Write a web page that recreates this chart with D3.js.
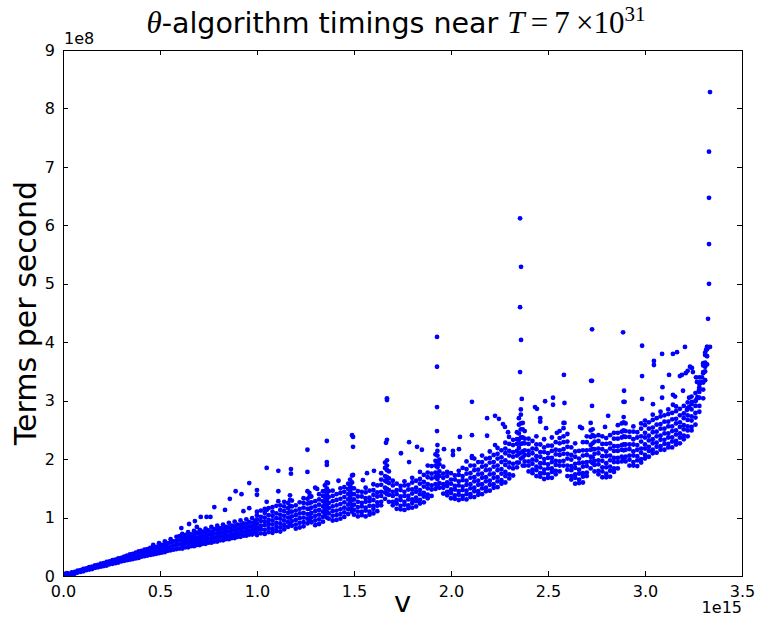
<!DOCTYPE html>
<html>
<head>
<meta charset="utf-8">
<script src="https://cdn.jsdelivr.net/npm/d3@7"></script>
<style>
  body { margin: 0; background: #fff; }
  svg { display: block; font-family: "DejaVu Sans", sans-serif; }
  .axis path.domain { display: none; }
  .axis line { stroke: #000; shape-rendering: crispEdges; }
  .axis text { fill: #000; font-size: 16px; font-family: "DejaVu Sans", sans-serif; }
</style>
</head>
<body>
<div id="chart"></div>
<script>
// units used in the tables below
const V_UNIT = 1e15;
const RATE_UNIT = 1e8;

const xTickVals = [0.0, 0.5, 1.0, 1.5, 2.0, 2.5, 3.0, 3.5];
const yTickVals = [0, 1, 2, 3, 4, 5, 6, 7, 8, 9];

// each row: [v, rate, rate, ...] (v in 1e15, rate in 1e8)
const rampCols = [
  [0.000, 0.00, 0.02, 0.04], [0.010, 0.01, 0.03], [0.020, 0.00, 0.03, 0.05], [0.030, 0.02, 0.04],
  [0.045, 0.03, 0.06], [0.060, 0.04, 0.07], [0.075, 0.06, 0.09], [0.090, 0.07, 0.10],
  [0.105, 0.08, 0.12], [0.120, 0.10, 0.13], [0.135, 0.11, 0.15], [0.150, 0.12, 0.16],
  [0.165, 0.14, 0.18], [0.180, 0.15, 0.19], [0.195, 0.16, 0.21], [0.210, 0.17, 0.22],
  [0.225, 0.18, 0.21, 0.24], [0.240, 0.20, 0.25], [0.255, 0.21, 0.24, 0.27], [0.270, 0.22, 0.28],
  [0.285, 0.23, 0.26, 0.30], [0.300, 0.25, 0.31], [0.315, 0.26, 0.29, 0.33], [0.330, 0.27, 0.31, 0.35],
  [0.345, 0.28, 0.32, 0.37], [0.360, 0.29, 0.34, 0.38], [0.375, 0.30, 0.35, 0.40],
  [0.390, 0.31, 0.37, 0.42], [0.405, 0.33, 0.38, 0.43], [0.420, 0.34, 0.39, 0.45],
  [0.435, 0.35, 0.41, 0.46], [0.450, 0.36, 0.42, 0.48], [0.465, 0.37, 0.43, 0.49, 0.53],
  [0.480, 0.38, 0.44, 0.50], [0.495, 0.39, 0.45, 0.51, 0.56], [0.510, 0.40, 0.46, 0.53],
  [0.525, 0.41, 0.48, 0.54, 0.59], [0.540, 0.43, 0.49, 0.56], [0.555, 0.44, 0.50, 0.57, 0.63],
  [0.570, 0.45, 0.52, 0.59], [0.585, 0.46, 0.53, 0.60, 0.67], [0.600, 0.47, 0.54, 0.61, 0.68]
];

const bandCols = [
  [0.615, 0.47, 0.53, 0.60, 0.66, 0.72], [0.630, 0.49, 0.56, 0.63, 0.70], [0.645, 0.49, 0.55, 0.61, 0.68, 0.75],
  [0.660, 0.51, 0.58, 0.65, 0.71], [0.675, 0.51, 0.57, 0.63, 0.70, 0.77], [0.690, 0.53, 0.60, 0.66, 0.74],
  [0.705, 0.53, 0.59, 0.65, 0.72, 0.79], [0.720, 0.55, 0.62, 0.69, 0.76], [0.735, 0.55, 0.61, 0.67, 0.74, 0.81],
  [0.750, 0.57, 0.64, 0.71, 0.78], [0.765, 0.57, 0.63, 0.70, 0.76, 0.84], [0.780, 0.59, 0.66, 0.73, 0.80],
  [0.795, 0.59, 0.65, 0.72, 0.79, 0.86], [0.810, 0.61, 0.68, 0.75, 0.82], [0.825, 0.61, 0.67, 0.74, 0.81, 0.88],
  [0.840, 0.63, 0.70, 0.77, 0.84], [0.855, 0.63, 0.69, 0.76, 0.83, 0.91], [0.870, 0.65, 0.72, 0.79, 0.86],
  [0.885, 0.65, 0.71, 0.78, 0.85, 0.93], [0.900, 0.67, 0.74, 0.81, 0.88], [0.915, 0.67, 0.73, 0.80, 0.87, 0.95],
  [0.930, 0.69, 0.76, 0.83, 0.90], [0.945, 0.69, 0.75, 0.82, 0.89, 0.97], [0.960, 0.71, 0.78, 0.85, 0.92],
  [0.975, 0.71, 0.77, 0.84, 0.91, 0.99], [0.990, 0.73, 0.80, 0.87, 0.94],
  [1.00, 0.70, 0.77, 0.83, 0.90, 0.97, 1.04, 1.10], [1.02, 0.73, 0.80, 0.86, 0.94, 1.01, 1.12],
  [1.04, 0.72, 0.79, 0.87, 0.93, 1.00, 1.08, 1.15], [1.06, 0.75, 0.82, 0.89, 0.96, 1.04, 1.16],
  [1.08, 0.74, 0.80, 0.88, 0.95, 1.03, 1.10, 1.18], [1.10, 0.77, 0.84, 0.91, 0.99, 1.07, 1.20],
  [1.12, 0.76, 0.83, 0.90, 0.98, 1.05, 1.13, 1.21], [1.14, 0.80, 0.87, 0.95, 1.03, 1.11, 1.19, 1.27],
  [1.16, 0.84, 0.92, 1.00, 1.08, 1.16, 1.25], [1.17, 0.90, 1.00, 1.10, 1.20, 1.30, 1.38],
  [1.18, 0.86, 0.94, 1.02, 1.10, 1.19, 1.29], [1.20, 0.81, 0.88, 0.96, 1.04, 1.12, 1.21],
  [1.22, 0.83, 0.91, 0.99, 1.07, 1.15, 1.26], [1.24, 0.85, 0.92, 1.00, 1.08, 1.17, 1.25, 1.33],
  [1.26, 0.90, 0.98, 1.06, 1.15, 1.24, 1.32], [1.27, 0.95, 1.05, 1.15, 1.25, 1.35, 1.42],
  [1.28, 0.92, 1.00, 1.08, 1.17, 1.26, 1.36], [1.30, 0.87, 0.95, 1.03, 1.11, 1.19, 1.28],
  [1.32, 0.89, 0.97, 1.05, 1.13, 1.22, 1.31, 1.40], [1.34, 0.93, 1.01, 1.10, 1.19, 1.28, 1.37, 1.45],
  [1.35, 1.05, 1.15, 1.25, 1.35, 1.45, 1.55], [1.36, 1.00, 1.10, 1.20, 1.30, 1.40, 1.50, 1.60],
  [1.37, 0.98, 1.07, 1.16, 1.25, 1.35, 1.45], [1.39, 0.95, 1.03, 1.11, 1.19, 1.28, 1.37, 1.46],
  [1.41, 0.96, 1.04, 1.12, 1.21, 1.30, 1.40], [1.43, 0.98, 1.06, 1.14, 1.23, 1.32, 1.42, 1.50],
  [1.45, 1.01, 1.09, 1.17, 1.26, 1.35, 1.44, 1.52], [1.47, 1.06, 1.14, 1.22, 1.31, 1.40, 1.49, 1.58],
  [1.48, 1.15, 1.25, 1.35, 1.45, 1.55, 1.65], [1.49, 1.10, 1.20, 1.30, 1.40, 1.50, 1.60, 1.72],
  [1.50, 1.05, 1.13, 1.22, 1.31, 1.40, 1.50], [1.52, 1.02, 1.10, 1.18, 1.27, 1.36, 1.45]
];

const scallopCols = [
  [1.54, 1.04, 1.10, 1.19, 1.25, 1.36, 1.44], [1.56, 1.02, 1.12, 1.17, 1.27, 1.33, 1.43, 1.51],
  [1.58, 1.05, 1.10, 1.20, 1.28, 1.34, 1.46], [1.60, 1.07, 1.15, 1.20, 1.30, 1.39, 1.47, 1.57],
  [1.62, 1.11, 1.20, 1.26, 1.36, 1.43, 1.55], [1.64, 1.21, 1.27, 1.37, 1.44, 1.56, 1.65, 1.76],
  [1.66, 1.32, 1.43, 1.51, 1.63, 1.71, 1.85, 1.94], [1.67, 1.40, 1.49, 1.61, 1.69, 1.81, 1.89, 1.98],
  [1.68, 1.27, 1.39, 1.47, 1.59, 1.67, 1.79], [1.70, 1.21, 1.27, 1.37, 1.44, 1.55, 1.63],
  [1.72, 1.15, 1.24, 1.30, 1.40, 1.47, 1.58], [1.74, 1.14, 1.20, 1.30, 1.36, 1.47, 1.54],
  [1.76, 1.13, 1.22, 1.27, 1.37, 1.44, 1.55, 1.62], [1.78, 1.16, 1.21, 1.31, 1.37, 1.48, 1.56],
  [1.80, 1.17, 1.25, 1.31, 1.41, 1.48, 1.60, 1.68], [1.82, 1.19, 1.28, 1.34, 1.44, 1.51, 1.63],
  [1.84, 1.24, 1.30, 1.40, 1.47, 1.58, 1.66, 1.78], [1.86, 1.26, 1.36, 1.42, 1.53, 1.61, 1.73],
  [1.88, 1.33, 1.39, 1.50, 1.57, 1.69, 1.77, 1.89], [1.90, 1.37, 1.48, 1.55, 1.67, 1.75, 1.88],
  [1.92, 1.49, 1.57, 1.69, 1.77, 1.89, 1.97, 2.08], [1.93, 1.54, 1.66, 1.74, 1.86, 1.94, 2.06, 2.14, 2.24],
  [1.94, 1.51, 1.59, 1.71, 1.79, 1.91, 1.99], [1.96, 1.41, 1.51, 1.57, 1.68, 1.75, 1.87],
  [1.98, 1.38, 1.44, 1.54, 1.60, 1.71, 1.78], [2.00, 1.33, 1.42, 1.48, 1.58, 1.65, 1.76],
  [2.02, 1.32, 1.38, 1.48, 1.54, 1.65, 1.72], [2.04, 1.30, 1.39, 1.45, 1.55, 1.62, 1.73, 1.80],
  [2.06, 1.32, 1.37, 1.47, 1.53, 1.64, 1.71, 1.85], [2.08, 1.31, 1.40, 1.46, 1.56, 1.63, 1.75, 1.83, 1.96],
  [2.10, 1.35, 1.40, 1.50, 1.57, 1.68, 1.76, 1.89], [2.12, 1.35, 1.45, 1.51, 1.62, 1.69, 1.81, 1.89, 2.01],
  [2.14, 1.39, 1.45, 1.56, 1.63, 1.74, 1.82, 1.95], [2.16, 1.40, 1.50, 1.57, 1.68, 1.75, 1.87, 1.95, 2.06],
  [2.18, 1.45, 1.51, 1.62, 1.69, 1.81, 1.89, 2.01], [2.20, 1.46, 1.56, 1.63, 1.74, 1.82, 1.94, 2.02, 2.13],
  [2.22, 1.51, 1.57, 1.68, 1.75, 1.87, 1.95, 2.07], [2.24, 1.52, 1.62, 1.69, 1.81, 1.89, 2.01, 2.09, 2.19],
  [2.26, 1.58, 1.64, 1.75, 1.83, 1.95, 2.03, 2.15], [2.28, 1.60, 1.71, 1.78, 1.90, 1.98, 2.10, 2.18, 2.28],
  [2.30, 1.67, 1.74, 1.86, 1.94, 2.06, 2.14, 2.26], [2.32, 1.72, 1.84, 1.92, 2.04, 2.12, 2.24, 2.33],
  [2.34, 1.86, 1.94, 2.06, 2.14, 2.26, 2.34, 2.46], [2.35, 1.94, 2.09, 2.19, 2.33, 2.44, 2.59, 2.70],
  [2.36, 2.01, 2.11, 2.26, 2.37, 2.51, 2.61, 2.76, 2.85], [2.37, 1.89, 2.03, 2.13, 2.27, 2.37, 2.51, 2.62],
  [2.38, 1.89, 1.96, 2.07, 2.15, 2.27, 2.35, 2.48], [2.40, 1.79, 1.89, 1.96, 2.07, 2.14, 2.26, 2.35],
  [2.42, 1.76, 1.82, 1.92, 1.99, 2.10, 2.18, 2.31], [2.44, 1.71, 1.81, 1.87, 1.98, 2.05, 2.17, 2.25, 2.39],
  [2.46, 1.70, 1.76, 1.86, 1.93, 2.04, 2.12, 2.25], [2.48, 1.66, 1.76, 1.82, 1.93, 2.00, 2.12, 2.20, 2.34],
  [2.50, 1.68, 1.74, 1.84, 1.91, 2.02, 2.10, 2.23], [2.52, 1.68, 1.78, 1.84, 1.95, 2.02, 2.14, 2.23, 2.37],
  [2.54, 1.74, 1.80, 1.90, 1.97, 2.08, 2.16, 2.29], [2.56, 1.79, 1.89, 1.96, 2.07, 2.15, 2.27, 2.36, 2.48],
  [2.58, 1.89, 1.97, 2.09, 2.17, 2.29, 2.39, 2.53, 2.62], [2.60, 1.71, 1.82, 1.89, 2.01, 2.09, 2.21, 2.30, 2.43],
  [2.62, 1.65, 1.71, 1.81, 1.88, 1.99, 2.07, 2.20], [2.64, 1.58, 1.68, 1.74, 1.85, 1.92, 2.04, 2.13, 2.27],
  [2.66, 1.59, 1.65, 1.75, 1.82, 1.93, 2.01, 2.14], [2.68, 1.60, 1.70, 1.76, 1.87, 1.94, 2.06, 2.15, 2.29],
  [2.70, 1.71, 1.77, 1.88, 1.95, 2.07, 2.15, 2.29, 2.39], [2.72, 1.84, 1.96, 2.04, 2.16, 2.24, 2.38, 2.49, 2.62],
  [2.73, 1.93, 2.03, 2.17, 2.27, 2.41, 2.51], [2.74, 1.79, 1.90, 1.97, 2.09, 2.17, 2.30, 2.39],
  [2.76, 1.74, 1.80, 1.91, 1.98, 2.10, 2.18, 2.31, 2.41], [2.78, 1.69, 1.79, 1.86, 1.97, 2.05, 2.17, 2.26, 2.39],
  [2.80, 1.69, 1.75, 1.86, 1.93, 2.05, 2.13, 2.26, 2.36], [2.82, 1.70, 1.80, 1.87, 1.98, 2.06, 2.18, 2.27, 2.41],
  [2.84, 1.78, 1.84, 1.95, 2.02, 2.14, 2.22, 2.35, 2.45], [2.86, 1.84, 1.95, 2.02, 2.14, 2.22, 2.35, 2.45, 2.58],
  [2.88, 1.96, 2.04, 2.16, 2.24, 2.37, 2.47, 2.61], [2.89, 2.01, 2.15, 2.25, 2.39, 2.49, 2.63, 2.72],
  [2.90, 1.96, 2.04, 2.16, 2.25, 2.38, 2.48, 2.61], [2.92, 1.89, 1.99, 2.06, 2.17, 2.25, 2.38, 2.47],
  [2.94, 1.89, 1.95, 2.06, 2.13, 2.25, 2.34, 2.47, 2.56], [2.96, 1.88, 1.98, 2.05, 2.16, 2.24, 2.37, 2.46],
  [2.98, 1.94, 2.00, 2.11, 2.18, 2.30, 2.39, 2.52, 2.61]
];

const tailCols = [
  [3.00, 2.01, 2.07, 2.18, 2.25, 2.37, 2.45, 2.58, 2.66], [3.02, 2.04, 2.14, 2.21, 2.32, 2.40, 2.52, 2.63],
  [3.04, 2.10, 2.16, 2.27, 2.34, 2.46, 2.54, 2.67, 2.76], [3.06, 2.11, 2.21, 2.28, 2.39, 2.47, 2.59, 2.70],
  [3.08, 2.16, 2.22, 2.33, 2.40, 2.52, 2.60, 2.73, 2.81], [3.10, 2.16, 2.26, 2.33, 2.44, 2.52, 2.64, 2.75],
  [3.12, 2.20, 2.26, 2.37, 2.44, 2.56, 2.64, 2.77, 2.85], [3.14, 2.20, 2.30, 2.37, 2.48, 2.56, 2.68, 2.79],
  [3.16, 2.25, 2.31, 2.42, 2.49, 2.61, 2.69, 2.82, 2.90], [3.18, 2.27, 2.37, 2.44, 2.55, 2.63, 2.75, 2.86],
  [3.20, 2.34, 2.40, 2.51, 2.58, 2.70, 2.78, 2.91], [3.22, 2.39, 2.49, 2.56, 2.67, 2.75, 2.87, 2.97],
  [3.24, 2.49, 2.55, 2.66, 2.73, 2.85, 2.94, 3.07], [3.26, 2.59, 2.71, 2.79, 2.91, 2.99, 3.13],
  [3.28, 2.81, 2.91, 3.05, 3.15, 3.29, 3.40], [3.30, 3.04, 3.19, 3.31, 3.47, 3.60],
  [3.31, 3.35, 3.50, 3.65, 3.78], [3.32, 3.62, 3.76, 3.88, 3.92]
];

// sparse points above the main cloud: [v, rate]
const outlierPts = [
  [0.61, 0.82], [0.65, 0.89], [0.68, 0.94], [0.69, 0.84], [0.71, 1.01], [0.74, 1.01], [0.76, 1.01],
  [0.78, 1.18], [0.835, 1.13], [0.86, 1.32], [0.89, 1.45], [0.92, 1.40], [0.93, 1.11], [0.96, 1.16],
  [0.96, 1.59], [1.00, 1.47], [1.00, 1.39], [1.05, 1.85], [1.05, 1.27], [1.05, 1.13],
  [1.11, 1.80], [1.11, 1.45], [1.11, 1.28], [1.175, 1.83], [1.175, 1.75], [1.26, 2.16], [1.26, 1.78],
  [1.26, 1.45], [1.30, 1.51], [1.31, 1.49], [1.36, 2.31], [1.36, 1.95], [1.36, 1.90], [1.366, 1.59],
  [1.42, 1.63], [1.49, 2.41], [1.495, 2.38], [1.495, 2.21], [1.495, 1.73], [1.546, 1.64], [1.567, 1.76],
  [1.603, 1.80], [1.67, 3.01], [1.67, 3.04], [1.67, 2.33], [1.665, 2.28], [1.742, 2.10], [1.784, 2.29],
  [1.784, 1.95], [1.825, 2.21], [1.85, 2.16], [1.928, 4.09], [1.928, 3.58], [1.928, 2.89], [1.928, 2.48],
  [1.964, 2.17], [2.01, 2.14], [2.01, 2.07], [2.041, 2.17], [2.046, 2.38], [2.108, 2.98], [2.108, 2.41],
  [2.108, 2.05], [2.108, 2.02], [2.186, 2.70], [2.186, 2.40], [2.227, 2.74], [2.227, 2.24], [2.247, 2.69],
  [2.268, 2.60], [2.278, 2.55], [2.294, 2.46], [2.299, 2.38], [2.356, 6.12], [2.361, 5.29], [2.356, 4.60],
  [2.361, 4.04], [2.356, 3.49], [2.365, 3.03], [2.433, 2.89], [2.443, 2.86], [2.46, 2.64], [2.46, 2.70],
  [2.49, 2.53], [2.485, 2.99], [2.526, 3.05], [2.526, 2.93], [2.546, 2.45], [2.582, 3.44], [2.585, 2.96],
  [2.585, 2.62], [2.665, 2.55], [2.675, 2.53], [2.722, 3.34], [2.727, 3.34], [2.727, 4.22], [2.727, 2.91],
  [2.794, 2.55], [2.81, 2.74], [2.887, 4.17], [2.892, 3.17], [2.889, 2.98], [2.895, 2.98],
  [2.985, 3.94], [2.985, 3.42], [2.985, 3.03], [3.046, 3.68], [3.046, 3.61], [3.041, 2.94],
  [3.088, 3.80], [3.09, 3.23], [3.088, 3.05], [3.124, 3.44], [3.144, 3.80], [3.165, 3.83],
  [3.144, 3.10], [3.155, 3.07], [3.144, 2.93], [3.18, 3.42], [3.19, 3.44], [3.196, 3.17], [3.206, 3.92],
  [3.216, 2.84], [3.227, 2.89], [3.227, 3.05], [3.242, 2.98],
  [3.21, 3.47], [3.22, 3.51], [3.232, 3.58], [3.242, 3.56], [3.247, 3.49], [3.263, 3.40], [3.268, 3.32],
  [3.284, 3.30], [3.263, 3.01], [3.27, 3.06], [3.278, 3.18], [3.28, 3.23], [3.289, 3.32], [3.294, 3.40],
  [3.30, 3.49], [3.31, 3.58], [3.30, 3.64], [3.31, 3.82], [3.315, 3.87], [3.32, 3.92], [3.335, 3.92],
  [3.325, 4.40], [3.33, 5.00], [3.33, 5.68], [3.33, 6.47], [3.33, 7.26], [3.335, 8.28]
];

const W = 757, H = 620;
const margin = { top: 50, right: 15, bottom: 44, left: 63 };
const width = W - margin.left - margin.right;   // 679
const height = H - margin.top - margin.bottom;  // 526

const colPts = cols => cols.flatMap(([v, ...rates]) => rates.map(r => ({ v: v * V_UNIT, rate: r * RATE_UNIT })));
const points = [
  ...colPts(rampCols), ...colPts(bandCols), ...colPts(scallopCols), ...colPts(tailCols),
  ...outlierPts.map(([v, r]) => ({ v: v * V_UNIT, rate: r * RATE_UNIT }))
];

const svg = d3.select("#chart")
  .append("svg")
  .attr("width", W)
  .attr("height", H);

const g = svg.append("g")
  .attr("transform", `translate(${margin.left},${margin.top})`);

const x = d3.scaleLinear().domain([0, 3.5 * V_UNIT]).range([0, width]);
const y = d3.scaleLinear().domain([0, 9 * RATE_UNIT]).range([height, 0]);

g.append("clipPath").attr("id", "plot-clip")
  .append("rect").attr("width", width).attr("height", height);

g.append("g")
  .attr("clip-path", "url(#plot-clip)")
  .selectAll("circle")
  .data(points)
  .enter()
  .append("circle")
  .attr("cx", d => x(d.v))
  .attr("cy", d => y(d.rate))
  .attr("r", 2.4)
  .attr("fill", "#0000ff");

// axes, ticks pointing inward on all four sides
g.append("g")
  .attr("class", "axis")
  .attr("transform", `translate(0,${height})`)
  .call(d3.axisBottom(x).tickValues(xTickVals.map(d => d * V_UNIT)).tickSizeInner(-5).tickSizeOuter(0)
    .tickPadding(10).tickFormat(d => (d / V_UNIT).toFixed(1)));

g.append("g")
  .attr("class", "axis")
  .call(d3.axisTop(x).tickValues(xTickVals.map(d => d * V_UNIT)).tickSizeInner(-5).tickSizeOuter(0).tickFormat(""));

g.append("g")
  .attr("class", "axis")
  .call(d3.axisLeft(y).tickValues(yTickVals.map(d => d * RATE_UNIT)).tickSizeInner(-5).tickSizeOuter(0)
    .tickPadding(8).tickFormat(d => d3.format("d")(d / RATE_UNIT)));

g.append("g")
  .attr("class", "axis")
  .attr("transform", `translate(${width},0)`)
  .call(d3.axisRight(y).tickValues(yTickVals.map(d => d * RATE_UNIT)).tickSizeInner(-5).tickSizeOuter(0).tickFormat(""));

g.append("rect")
  .attr("x", 0.5).attr("y", 0.5)
  .attr("width", width).attr("height", height)
  .attr("fill", "none")
  .attr("stroke", "#000")
  .attr("stroke-width", 1);

// offset labels
g.append("text")
  .attr("x", 1).attr("y", -6)
  .attr("font-size", 16)
  .text("1e8");

g.append("text")
  .attr("x", width).attr("y", height + 37)
  .attr("text-anchor", "end")
  .attr("font-size", 16)
  .text("1e15");

// axis titles
svg.append("text")
  .attr("x", margin.left + width / 2).attr("y", 612)
  .attr("text-anchor", "middle")
  .attr("font-size", 29)
  .text("v");

svg.append("text")
  .attr("transform", `translate(36,${margin.top + height / 2}) rotate(-90)`)
  .attr("text-anchor", "middle")
  .attr("font-size", 30)
  .text("Terms per second");

// title
const title = svg.append("text")
  .attr("x", 396).attr("y", 33)
  .attr("text-anchor", "middle")
  .attr("font-size", 28.5);
title.append("tspan").attr("font-family", "Liberation Serif").attr("font-style", "italic").attr("font-size", 31).text("θ");
title.append("tspan").text("-algorithm timings near ");
title.append("tspan").attr("font-family", "Liberation Serif").attr("font-style", "italic").attr("font-size", 31).text("T");
title.append("tspan").attr("font-family", "Liberation Serif").attr("font-size", 31).text("\u2009=\u20097\u2009×10");
title.append("tspan").attr("font-family", "Liberation Serif").attr("font-size", 21).attr("dy", -12).text("31");
</script>
</body>
</html>
